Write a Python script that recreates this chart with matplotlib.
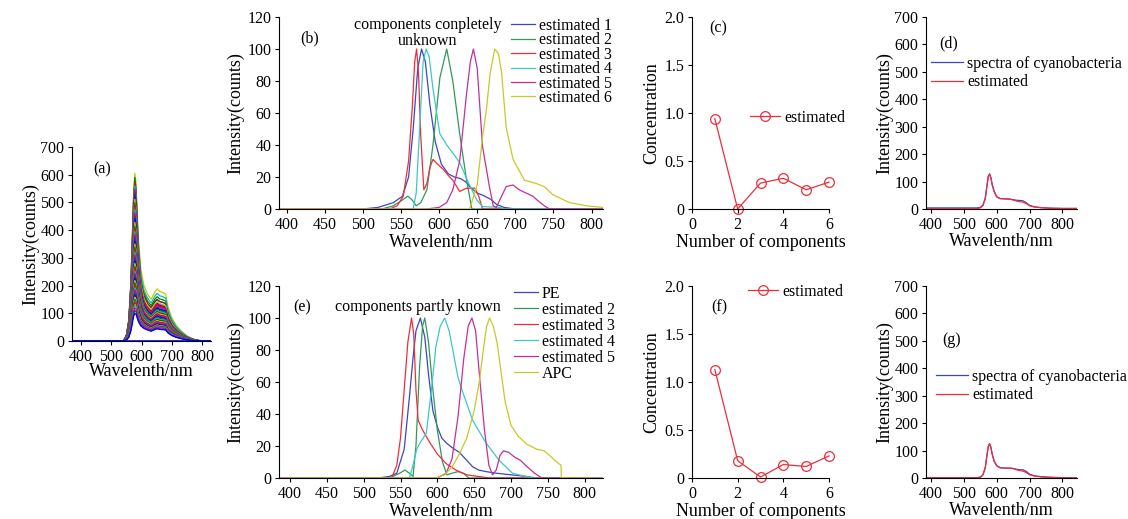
import matplotlib
matplotlib.use("Agg")
import matplotlib.pyplot as plt
import numpy as np

plt.rcParams['font.family'] = ['Liberation Serif', 'DejaVu Serif']
plt.rcParams['font.size'] = 11.5
plt.rcParams['axes.linewidth'] = 0.8

W, H = 1128, 519

# colours (MATLAB-like, as rendered)
c_blue = '#3c46c0'
c_green = '#2f9a5a'
c_red = '#ee2d3c'
c_cyan = '#3cc8c8'
c_mag = '#c0309c'
c_yel = '#c8c828'

# ---------- (a) raw spectra: shape profiles + peak / shoulder heights ----------
wl_a = [370, 540, 550, 558, 565, 570, 574, 578, 582, 586, 590, 598, 608, 620,
        632, 645, 652, 660, 670, 680, 688, 700, 715, 730, 750, 770, 790, 830]
peak_prof = [0, 0, 0.03, 0.12, 0.35, 0.65, 0.9, 1.0, 0.88, 0.62, 0.4, 0.15, 0.04, 0,
             0, 0, 0, 0, 0, 0, 0, 0, 0, 0, 0, 0, 0, 0]
shoulder_prof = [0, 0, 0.04, 0.12, 0.3, 0.5, 0.65, 0.75, 0.85, 0.92, 0.97, 1.0, 0.97, 0.9,
                 0.8, 0.95, 1.0, 0.95, 0.93, 0.9, 0.65, 0.45, 0.3, 0.2, 0.1, 0.04, 0.01, 0]
a_peaks = [605, 590, 570, 560, 548, 535, 520, 512, 500, 488, 475, 462, 450, 440,
           428, 415, 405, 395, 385, 372, 360, 350, 340, 330, 320, 310, 300, 290,
           280, 270, 262, 252, 244, 235, 226, 218, 210, 200, 192, 184, 175, 166,
           158, 150, 140, 130, 120, 110, 100]
a_shoulders = [188, 160, 150, 172, 140, 150, 135, 142, 128, 132, 122, 126, 118, 120,
               112, 115, 108, 110, 104, 106, 100, 102, 96, 98, 92, 94, 88, 90,
               85, 86, 80, 82, 77, 78, 73, 74, 70, 70, 66, 66, 62, 62, 58, 56,
               54, 52, 50, 46, 44]
a_colors = ['#c8c800', '#008000', '#ff0000', '#00bfbf', '#bf00bf', '#404040', '#0000ff']

# ---------- (b) components completely unknown ----------
b1_wl = [390, 500, 520, 540, 552, 560, 566, 572, 577, 582, 588, 595, 603, 612, 620,
         628, 635, 642, 650, 660, 668, 675, 685, 700, 815]
b1_val = [0, 0, 1, 4, 8, 20, 50, 88, 100, 92, 65, 42, 28, 22, 20, 19, 17, 13, 10, 8,
          6, 3, 1, 0, 0]
b2_wl = [390, 525, 540, 550, 559, 564, 570, 576, 584, 592, 601, 610, 618, 627, 636,
         643, 815]
b2_val = [0, 0, 2, 5, 8, 6, 2, 4, 12, 40, 82, 100, 80, 47, 18, 0, 0]
b3_wl = [390, 535, 545, 553, 560, 565, 568, 570.5, 573, 576, 580, 584, 588, 592, 598,
         605, 612, 618, 627, 636, 647, 652, 657, 815]
b3_val = [0, 0, 2, 8, 30, 65, 92, 100, 85, 45, 12, 16, 26, 31, 28, 25, 21, 18, 11, 13,
          13, 8, 0, 0]
b4_wl = [390, 566, 570, 575, 579, 583, 587, 592, 601, 610, 618, 627, 638, 649, 657,
         680, 685, 815]
b4_val = [0, 0, 10, 55, 92, 100, 95, 75, 47, 40, 35, 29, 17, 6, 1.5, 1, 0, 0]
b5_wl = [390, 583, 600, 610, 618, 627, 636, 641, 645, 650, 657, 666, 671, 675, 680,
         688, 697, 705, 714, 723, 730, 738, 745, 815]
b5_val = [0, 0, 1, 4, 12, 30, 72, 92, 100, 88, 39, 14, 2, 1, 6, 14, 15, 12, 10, 8, 5,
          2, 0, 0]
b6_wl = [390, 640, 650, 657, 662, 667, 673, 678, 682, 688, 697, 712, 727, 738, 749,
         771, 793, 815]
b6_val = [0, 0, 15, 45, 62, 85, 100, 97, 85, 51, 31, 18, 16, 14, 9, 4, 2, 1]
b_labels = ['estimated 1', 'estimated 2', 'estimated 3', 'estimated 4',
            'estimated 5', 'estimated 6']

# ---------- (e) components partly known ----------
e1_wl = [385, 520, 535, 545, 555, 562, 567, 571, 577, 583, 588, 594, 600, 606, 612,
         620, 630, 640, 648, 656, 666, 680, 700, 720, 735, 825]
e1_val = [0, 0, 1, 3, 18, 50, 75, 92, 100, 88, 65, 42, 32, 25, 22, 19, 16, 11, 7, 5,
          4, 3, 2, 1, 0, 0]
e2_wl = [385, 535, 549, 556, 562, 567, 571, 576, 580, 583, 588, 594, 600, 607, 613,
         620, 628, 635, 643, 825]
e2_val = [0, 0, 3, 5, 3, 1, 20, 70, 95, 100, 85, 55, 30, 10, 2, 3, 4, 3, 0, 0]
e3_wl = [385, 538, 545, 550, 555, 560, 565, 568, 571, 574, 580, 590, 600, 612, 625,
         640, 655, 670, 825]
e3_val = [0, 0, 8, 25, 55, 85, 100, 90, 55, 36, 30, 22, 15, 9, 5, 2, 1, 0, 0]
e4_wl = [385, 562, 567, 572, 578, 585, 592, 598, 604, 610, 616, 621, 628, 635, 648,
         666, 684, 702, 715, 730, 825]
e4_val = [0, 0, 8, 18, 23, 28, 55, 82, 95, 100, 92, 80, 63, 53, 36, 22, 11, 3, 1.5,
          0, 0]
e5_wl = [385, 600, 612, 620, 628, 636, 642, 647, 652, 658, 664, 670, 675, 680, 685,
         690, 697, 705, 713, 722, 732, 742, 825]
e5_val = [0, 0, 3, 12, 38, 75, 95, 100, 92, 60, 30, 8, 2, 5, 14, 17, 16, 13, 11, 7,
          3, 0, 0]
e6_wl = [385, 598, 610, 620, 630, 640, 650, 657, 663, 667, 671, 676, 681, 686, 692,
         700, 710, 722, 735, 745, 755, 762, 768, 768.5, 825]
e6_val = [0, 0, 2, 7, 15, 25, 42, 60, 82, 95, 100, 95, 85, 68, 48, 33, 26, 21, 18,
          17, 13, 10, 8, 0, 0]
e_labels = ['PE', 'estimated 2', 'estimated 3', 'estimated 4', 'estimated 5', 'APC']

# ---------- (c), (f) concentrations ----------
n_comp = [1, 2, 3, 4, 5, 6]
conc_c = [0.94, 0.0, 0.27, 0.32, 0.20, 0.28]
conc_f = [1.13, 0.18, 0.01, 0.14, 0.12, 0.23]

# ---------- (d), (g) measured vs estimated spectra ----------
d_wl = [384, 540, 550, 558, 565, 570, 574, 578, 582, 586, 592, 600, 610, 625, 640,
        650, 660, 670, 680, 690, 700, 715, 735, 760, 800, 845]
d_meas = [4, 4, 6, 15, 40, 85, 118, 128, 115, 90, 65, 45, 38, 37, 36, 34, 32, 31, 30,
          23, 13, 8, 5, 3, 2, 2]
d_est = [1, 1, 4, 13, 38, 83, 116, 127, 114, 88, 63, 44, 38, 37, 36, 33, 29, 27, 25,
         20, 12, 7, 5, 3, 2, 2]
g_meas = [1, 1, 3, 12, 38, 82, 114, 125, 112, 88, 62, 45, 38, 36, 36, 35, 32, 30, 30,
          24, 14, 8, 5, 3, 1, 1]
g_est = [1, 1, 3, 12, 38, 82, 114, 125, 112, 87, 61, 44, 37, 36, 36, 34, 30, 27, 25,
         20, 12, 7, 4, 2, 1, 1]

LAB = 13    # axis label size
TXT = 11.5  # tick / legend / annotation size

fig = plt.figure(figsize=(W / 100, H / 100), dpi=100)


def px_axes(l, t, r, b):
    ax = fig.add_axes([l / W, 1 - b / H, (r - l) / W, (b - t) / H])
    ax.spines['top'].set_visible(False)
    ax.spines['right'].set_visible(False)
    ax.tick_params(direction='out', length=3, width=0.8, labelsize=TXT, pad=2.5)
    return ax


def fig_legend(ax, x, y, spacing, hl=1.5):
    # legend anchored in pixel coordinates of the figure
    return ax.legend(loc='upper left', bbox_to_anchor=(x / W, 1 - y / H),
                     bbox_transform=fig.transFigure, frameon=False, fontsize=TXT,
                     handlelength=hl, handletextpad=0.25, borderpad=0,
                     borderaxespad=0, labelspacing=spacing)


# (a)
ax = px_axes(72, 147, 211, 341)
pk = np.array(peak_prof)
sh = np.array(shoulder_prof)
for i, (p, s) in enumerate(zip(a_peaks, a_shoulders)):
    ax.plot(wl_a, (p - 0.75 * s) * pk + s * sh, color=a_colors[i % 7], lw=0.9)
ax.plot(wl_a, 0 * pk, color='#0000ff', lw=1.2)
ax.set_xlim(370, 830)
ax.set_ylim(0, 700)
ax.set_xticks([400, 500, 600, 700, 800])
ax.set_yticks(range(0, 701, 100))
ax.set_xlabel('Wavelenth/nm', fontsize=LAB, labelpad=-1)
ax.set_ylabel('Intensity(counts)', fontsize=LAB, labelpad=1)
ax.text(0.22, 0.885, '(a)', transform=ax.transAxes, ha='center', va='center')

# (b)
ax = px_axes(279, 17, 603, 209)
for wl, v, c, lab in zip([b1_wl, b2_wl, b3_wl, b4_wl, b5_wl, b6_wl],
                         [b1_val, b2_val, b3_val, b4_val, b5_val, b6_val],
                         [c_blue, c_green, c_red, c_cyan, c_mag, c_yel], b_labels):
    ax.plot(wl, v, color=c, lw=0.9, label=lab)
ax.set_xlim(390, 815)
ax.set_ylim(0, 120)
ax.set_xticks(range(400, 801, 50))
ax.set_yticks(range(0, 121, 20))
ax.set_xlabel('Wavelenth/nm', fontsize=LAB, labelpad=1)
ax.set_ylabel('Intensity(counts)', fontsize=LAB, labelpad=2)
ax.text(0.096, 0.89, '(b)', transform=ax.transAxes, ha='center', va='center')
ax.text(0.46, 0.915, 'components conpletely\nunknown', transform=ax.transAxes,
        ha='center', va='center', linespacing=1.0)
fig_legend(ax, 511, 18, -0.1)

# (e)
ax = px_axes(279, 286, 603, 478)
for wl, v, c, lab in zip([e1_wl, e2_wl, e3_wl, e4_wl, e5_wl, e6_wl],
                         [e1_val, e2_val, e3_val, e4_val, e5_val, e6_val],
                         [c_blue, c_green, c_red, c_cyan, c_mag, c_yel], e_labels):
    ax.plot(wl, v, color=c, lw=0.9, label=lab)
ax.set_xlim(385, 825)
ax.set_ylim(0, 120)
ax.set_xticks(range(400, 801, 50))
ax.set_yticks(range(0, 121, 20))
ax.set_xlabel('Wavelenth/nm', fontsize=LAB, labelpad=1)
ax.set_ylabel('Intensity(counts)', fontsize=LAB, labelpad=2)
ax.text(0.07, 0.89, '(e)', transform=ax.transAxes, ha='center', va='center')
ax.text(0.43, 0.89, 'components partly known', transform=ax.transAxes,
        ha='center', va='center')
fig_legend(ax, 514, 286, 0.0)

# (c) and (f)
for top, bot, conc, lab, lab_xy, leg_xy in [
        (17, 209, conc_c, '(c)', (0.19, 0.94), (750, 110)),
        (286, 478, conc_f, '(f)', (0.2, 0.89), (748, 284))]:
    ax = px_axes(692, top, 829, bot)
    ax.plot(n_comp, conc, color=c_red, lw=0.9, marker='o', markersize=7,
            markerfacecolor='none', markeredgecolor=c_red, markeredgewidth=0.9,
            label='estimated', clip_on=False)
    ax.set_xlim(0, 6)
    ax.set_ylim(0, 2)
    ax.set_xticks([0, 2, 4, 6])
    ax.set_yticks([0, 0.5, 1.0, 1.5, 2.0])
    ax.set_yticklabels(['0', '0.5', '1.0', '1.5', '2.0'])
    ax.set_xlabel('Number of components', fontsize=LAB, labelpad=0)
    ax.set_ylabel('Concentration', fontsize=LAB, labelpad=3)
    ax.text(*lab_xy, lab, transform=ax.transAxes, ha='center', va='center')
    fig_legend(ax, leg_xy[0], leg_xy[1], 0.0, hl=1.9)

# (d) and (g)
for top, bot, meas, est, lab, lab_xy, leg_xy in [
        (17, 209, d_meas, d_est, '(d)', (0.15, 0.86), (931, 56)),
        (286, 478, g_meas, g_est, '(g)', (0.17, 0.72), (936, 369))]:
    ax = px_axes(926, top, 1077, bot)
    ax.plot(d_wl, meas, color=c_blue, lw=0.9, label='spectra of cyanobacteria')
    ax.plot(d_wl, est, color=c_red, lw=0.9, label='estimated')
    ax.set_xlim(384, 845)
    ax.set_ylim(0, 700)
    ax.set_xticks([400, 500, 600, 700, 800])
    ax.set_yticks(range(0, 701, 100))
    ax.set_xlabel('Wavelenth/nm', fontsize=LAB, labelpad=0)
    ax.set_ylabel('Intensity(counts)', fontsize=LAB, labelpad=1)
    ax.text(*lab_xy, lab, transform=ax.transAxes, ha='center', va='center')
    fig_legend(ax, leg_xy[0], leg_xy[1], 0.15, hl=2.0)

fig.savefig('out.png', dpi=100)
